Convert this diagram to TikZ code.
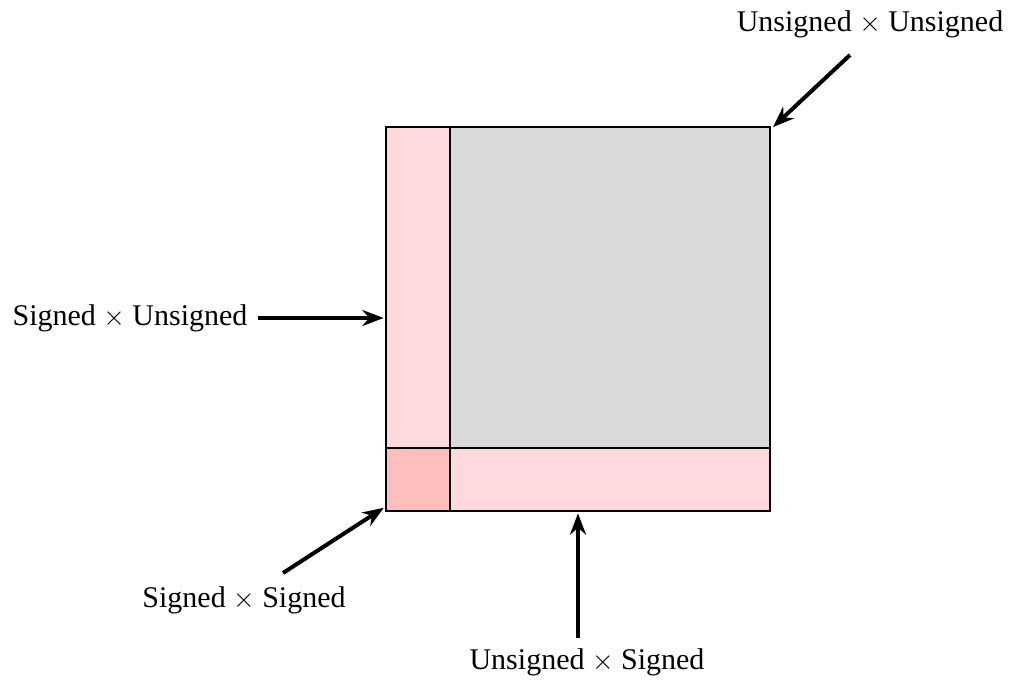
\documentclass[tikz,border=0pt]{standalone}
\usepackage{fontspec}
\setmainfont{Liberation Serif}
\usetikzlibrary{arrows.meta}
\definecolor{lpink}{HTML}{FFD9DB}
\definecolor{dpink}{HTML}{FFBFBF}
\definecolor{lgray}{HTML}{D9D9D9}
\tikzset{
  cell/.style={draw=black, line width=1.5pt},
  lbl/.style={font=\fontsize{22.5}{26}\selectfont, inner sep=0pt},
  arr/.style={line width=3pt, -{Stealth[length=16pt,width=12pt]}, shorten >=1pt},
}
\begin{document}
\begin{tikzpicture}[x=0.75pt,y=-0.75pt]
\useasboundingbox (0,0) rectangle (1021,681);
% cells
\path[cell, fill=lgray] (450,127) rectangle (770,448);
\path[cell, fill=lpink] (386,127) rectangle (450,448);
\path[cell, fill=lpink] (450,448) rectangle (770,511);
\path[cell, fill=dpink] (386,448) rectangle (450,511);
\draw[line width=2.2pt] (450,127) -- (770,127) -- (770,448);
% anchor coordinates
\coordinate (uu) at (772,128);
\coordinate (su) at (385,318);
\coordinate (ss) at (385,507);
\coordinate (us) at (578,512);
% labels
\node[lbl] (tuu) at (870,24) {Unsigned $\times$ Unsigned};
\node[lbl] (tsu) at (130,318) {Signed $\times$ Unsigned};
\node[lbl] (tss) at (244,600) {Signed $\times$ Signed};
\node[lbl] (tus) at (587,662) {Unsigned $\times$ Signed};
% arrows
\coordinate (auu) at (850,55);
\coordinate (asu) at (258,318);
\coordinate (ass) at (283,573);
\coordinate (aus) at (578,638);
\draw[arr] (auu) -- (uu);
\draw[arr] (asu) -- (su);
\draw[arr] (ass) -- (ss);
\draw[arr] (aus) -- (us);
\end{tikzpicture}
\end{document}
